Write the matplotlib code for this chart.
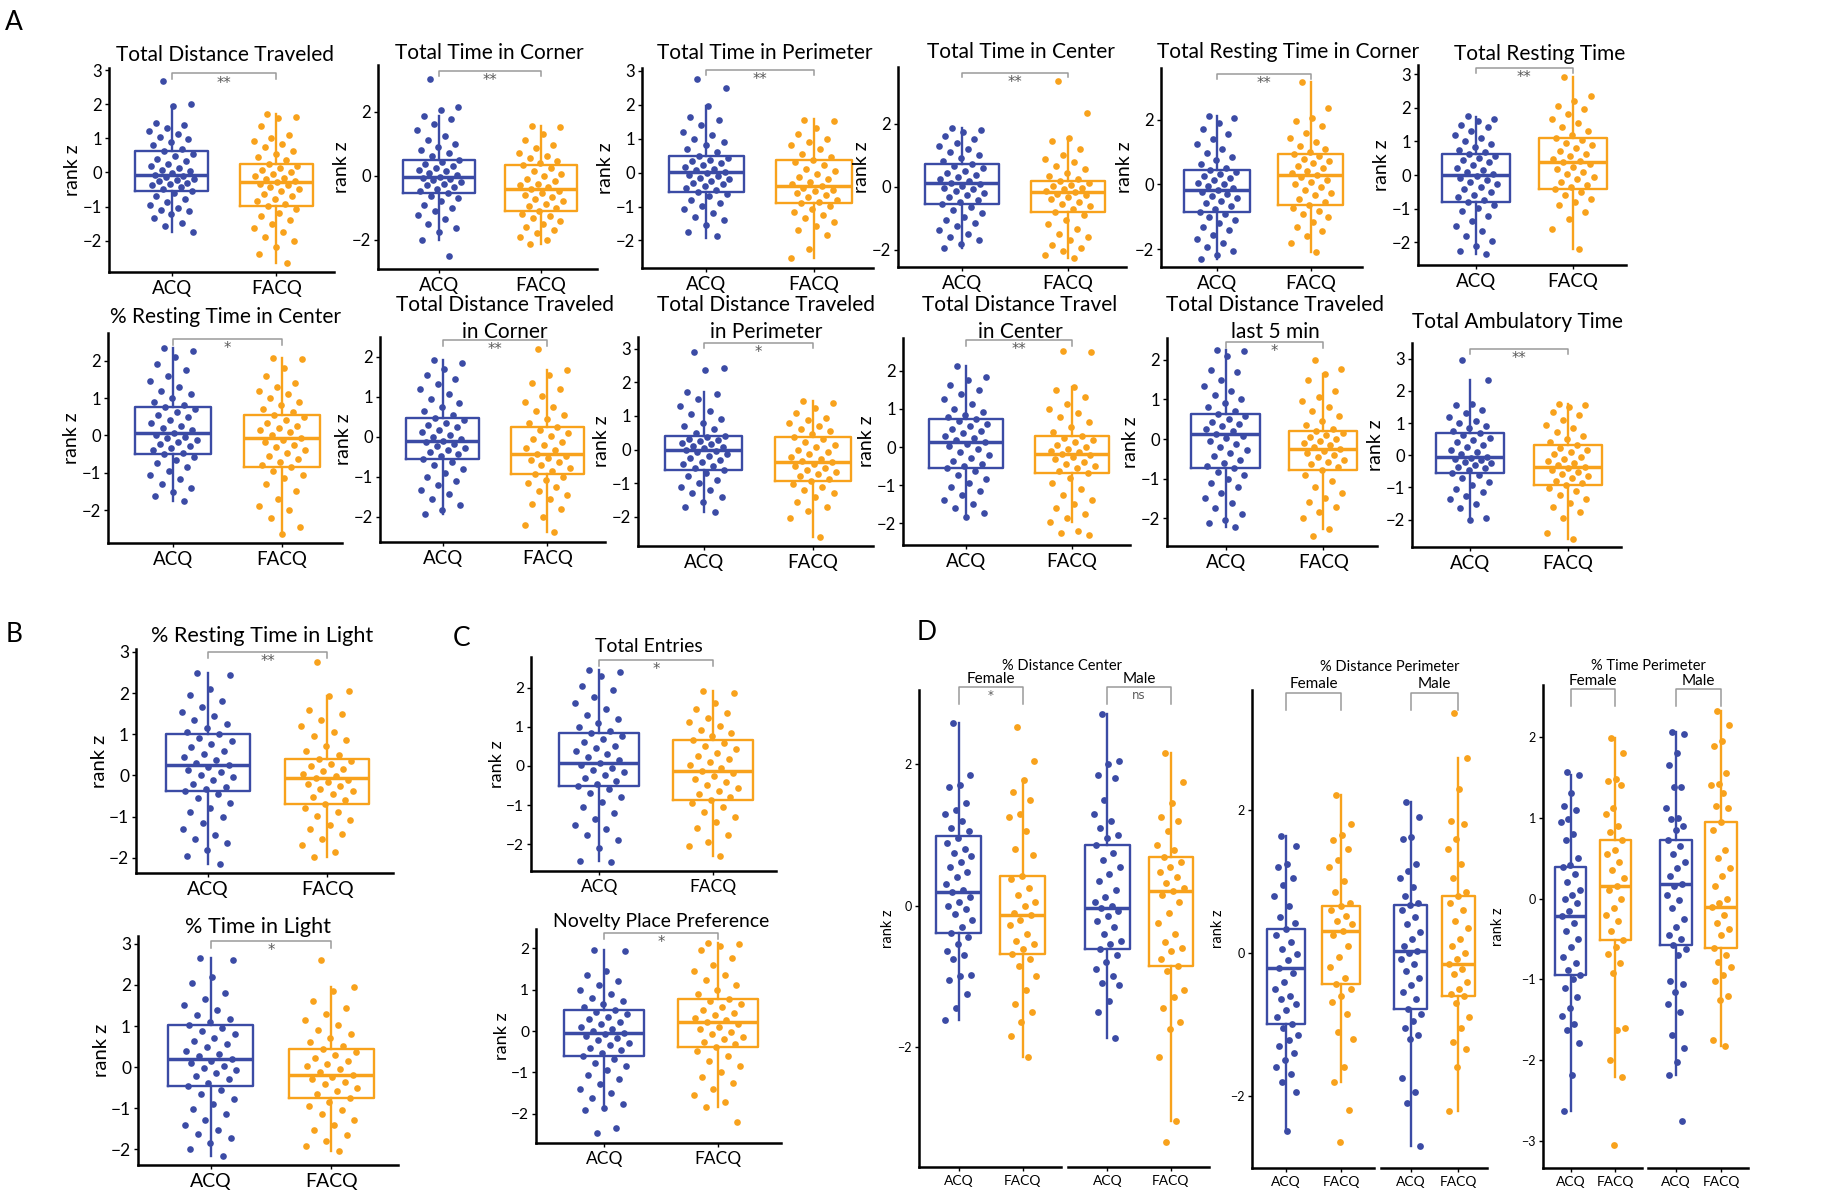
import numpy as np
import matplotlib
matplotlib.use("Agg")
from matplotlib import pyplot as plt

plt.rcParams['font.family'] = ['Lato', 'DejaVu Sans']

W, H = 1836, 1199
BLUE = '#3b4ba5'
ORANGE = '#f8a21c'
groups = ["ACQ", "FACQ"]

# -------- data (rank z) --------
# box stats per group: [low whisker, q1, median, q3, high whisker]
dist_acq = [2.68, 2.0, 1.94, 1.46, 1.38, 1.3, 1.21, 1.12, 1.05, 0.97, 0.88, 0.79, 0.7, 0.62, 0.55, 0.47, 0.4, 0.33, 0.26, 0.2, 0.14, 0.08, 0.03, -0.02, -0.08, -0.1, -0.14, -0.18, -0.22, -0.26, -0.3, -0.34, -0.38, -0.43, -0.48, -0.54, -0.6, -0.68, -0.77, -0.86, -0.95, -1.04, -1.1, -1.14, -1.22, -1.35, -1.48, -1.58, -1.74]
dist_facq = [1.7, 1.62, 1.6, 1.35, 1.1, 1.02, 0.92, 0.83, 0.74, 0.63, 0.55, 0.45, 0.36, 0.26, 0.2, 0.14, 0.08, 0.02, -0.04, -0.1, -0.15, -0.2, -0.25, -0.29, -0.33, -0.38, -0.43, -0.5, -0.56, -0.62, -0.7, -0.78, -0.85, -0.92, -0.99, -1.08, -1.18, -1.28, -1.4, -1.5, -1.62, -1.75, -1.9, -2.02, -2.2, -2.38, -2.66]
dist_box = [[-1.74, -0.54, -0.08, 0.62, 1.94], [-2.66, -0.99, -0.29, 0.26, 1.7]]

corner_acq = [3.0, 2.15, 2.05, 1.85, 1.78, 1.6, 1.42, 1.25, 1.1, 1.0, 0.9, 0.8, 0.7, 0.6, 0.48, 0.42, 0.36, 0.3, 0.24, 0.18, 0.13, 0.08, 0.03, -0.03, -0.06, -0.1, -0.15, -0.2, -0.25, -0.3, -0.36, -0.42, -0.48, -0.55, -0.62, -0.7, -0.8, -0.9, -1.0, -1.1, -1.22, -1.35, -1.5, -1.62, -1.75, -2.0, -2.5]
corner_facq = [1.55, 1.52, 1.3, 1.1, 0.95, 0.85, 0.7, 0.62, 0.55, 0.45, 0.38, 0.32, 0.25, 0.15, 0.06, -0.02, -0.1, -0.18, -0.25, -0.3, -0.36, -0.43, -0.48, -0.55, -0.6, -0.66, -0.72, -0.8, -0.88, -0.95, -1.02, -1.1, -1.18, -1.25, -1.32, -1.4, -1.5, -1.6, -1.7, -1.8, -1.9, -2.0, -2.12]
corner_box = [[-2.0, -0.55, -0.03, 0.48, 1.85], [-2.12, -1.1, -0.43, 0.32, 1.55]]

perim_acq = [2.75, 2.5, 1.97, 1.65, 1.55, 1.4, 1.2, 1.1, 1.0, 0.9, 0.8, 0.7, 0.6, 0.49, 0.44, 0.38, 0.33, 0.28, 0.22, 0.17, 0.12, 0.07, 0.02, -0.02, -0.06, -0.1, -0.15, -0.2, -0.25, -0.3, -0.35, -0.4, -0.46, -0.52, -0.56, -0.62, -0.7, -0.8, -0.9, -0.98, -1.08, -1.18, -1.3, -1.4, -1.55, -1.75, -1.88]
perim_facq = [1.55, 1.52, 1.3, 1.15, 1.0, 0.9, 0.8, 0.68, 0.55, 0.45, 0.37, 0.3, 0.22, 0.12, 0.04, -0.05, -0.12, -0.2, -0.28, -0.33, -0.39, -0.44, -0.5, -0.55, -0.6, -0.66, -0.72, -0.8, -0.86, -0.9, -0.98, -1.06, -1.15, -1.25, -1.35, -1.45, -1.58, -1.7, -1.85, -2.25, -2.53]
perim_box = [[-1.94, -0.56, 0.02, 0.49, 1.97], [-2.53, -0.9, -0.39, 0.37, 1.57]]

center_acq = [1.85, 1.8, 1.75, 1.62, 1.5, 1.38, 1.3, 1.2, 1.1, 1.0, 0.9, 0.8, 0.72, 0.66, 0.58, 0.5, 0.43, 0.36, 0.3, 0.24, 0.18, 0.12, 0.08, 0.03, -0.03, -0.08, -0.14, -0.2, -0.27, -0.34, -0.42, -0.5, -0.56, -0.64, -0.74, -0.85, -0.96, -1.05, -1.15, -1.25, -1.38, -1.5, -1.6, -1.7, -1.82, -1.95]
center_facq = [3.35, 2.35, 1.53, 1.45, 1.2, 1.0, 0.88, 0.78, 0.65, 0.55, 0.45, 0.35, 0.25, 0.18, 0.12, 0.06, 0.01, -0.04, -0.08, -0.13, -0.18, -0.22, -0.27, -0.33, -0.4, -0.48, -0.55, -0.62, -0.7, -0.79, -0.9, -1.05, -1.2, -1.35, -1.5, -1.6, -1.7, -1.85, -1.95, -2.05, -2.18, -2.25]
center_box = [[-1.95, -0.56, 0.12, 0.72, 1.85], [-2.25, -0.79, -0.18, 0.18, 1.53]]

rcorner_acq = [2.12, 2.05, 1.9, 1.72, 1.55, 1.4, 1.25, 1.1, 0.98, 0.86, 0.75, 0.62, 0.52, 0.46, 0.4, 0.33, 0.26, 0.2, 0.13, 0.06, 0.0, -0.06, -0.11, -0.16, -0.22, -0.28, -0.35, -0.42, -0.5, -0.58, -0.66, -0.75, -0.84, -0.92, -1.0, -1.1, -1.2, -1.3, -1.42, -1.55, -1.68, -1.8, -1.92, -2.05, -2.18, -2.3]
rcorner_facq = [3.18, 2.35, 2.05, 1.95, 1.8, 1.6, 1.45, 1.3, 1.2, 1.1, 1.0, 0.95, 0.88, 0.8, 0.72, 0.65, 0.58, 0.5, 0.43, 0.36, 0.29, 0.22, 0.15, 0.08, 0.0, -0.08, -0.16, -0.25, -0.34, -0.44, -0.54, -0.64, -0.72, -0.82, -0.92, -1.02, -1.15, -1.3, -1.45, -1.6, -1.8, -2.08]
rcorner_box = [[-2.3, -0.84, -0.16, 0.46, 2.12], [-2.08, -0.64, 0.29, 0.95, 3.18]]

rest_acq = [1.75, 1.68, 1.6, 1.5, 1.42, 1.32, 1.2, 1.1, 1.0, 0.92, 0.84, 0.76, 0.7, 0.64, 0.58, 0.52, 0.45, 0.38, 0.3, 0.22, 0.15, 0.08, 0.02, -0.03, -0.08, -0.14, -0.2, -0.27, -0.34, -0.42, -0.5, -0.58, -0.66, -0.73, -0.79, -0.88, -0.98, -1.08, -1.2, -1.35, -1.5, -1.65, -1.8, -1.95, -2.1, -2.25, -2.35]
rest_facq = [2.9, 2.35, 2.2, 2.05, 1.95, 1.8, 1.68, 1.55, 1.42, 1.3, 1.2, 1.11, 1.04, 0.96, 0.88, 0.8, 0.72, 0.64, 0.56, 0.48, 0.42, 0.38, 0.32, 0.25, 0.18, 0.1, 0.03, -0.05, -0.12, -0.2, -0.28, -0.35, -0.4, -0.5, -0.6, -0.7, -0.8, -0.9, -1.1, -1.3, -1.6, -2.2]
rest_box = [[-2.35, -0.79, 0.0, 0.64, 1.73], [-2.2, -0.4, 0.38, 1.11, 2.9]]

rcenter_acq = [2.34, 2.25, 2.1, 1.92, 1.75, 1.6, 1.45, 1.3, 1.2, 1.1, 1.0, 0.9, 0.82, 0.77, 0.7, 0.62, 0.55, 0.48, 0.4, 0.33, 0.26, 0.2, 0.14, 0.06, 0.02, -0.03, -0.08, -0.13, -0.18, -0.23, -0.28, -0.34, -0.4, -0.46, -0.5, -0.58, -0.66, -0.75, -0.85, -0.95, -1.05, -1.18, -1.3, -1.42, -1.52, -1.62, -1.75]
rcenter_facq = [2.07, 2.05, 1.8, 1.6, 1.4, 1.3, 1.2, 1.1, 1.0, 0.9, 0.8, 0.7, 0.62, 0.55, 0.48, 0.4, 0.33, 0.26, 0.2, 0.14, 0.08, 0.02, -0.06, -0.12, -0.18, -0.25, -0.32, -0.4, -0.48, -0.56, -0.64, -0.72, -0.8, -0.85, -0.95, -1.05, -1.15, -1.3, -1.5, -1.7, -1.9, -2.0, -2.2, -2.45, -2.63]
rcenter_box = [[-1.75, -0.5, 0.06, 0.77, 2.34], [-2.63, -0.85, -0.06, 0.55, 2.07]]

dcorner_acq = [1.92, 1.85, 1.7, 1.55, 1.45, 1.32, 1.2, 1.08, 0.95, 0.85, 0.75, 0.65, 0.55, 0.47, 0.42, 0.36, 0.3, 0.24, 0.18, 0.12, 0.06, 0.0, -0.05, -0.1, -0.14, -0.18, -0.22, -0.27, -0.32, -0.37, -0.42, -0.48, -0.55, -0.62, -0.7, -0.8, -0.9, -1.0, -1.1, -1.2, -1.32, -1.42, -1.55, -1.7, -1.82, -1.93]
dcorner_facq = [2.2, 1.68, 1.55, 1.35, 1.2, 1.02, 0.88, 0.75, 0.65, 0.55, 0.45, 0.35, 0.25, 0.18, 0.1, 0.03, -0.05, -0.12, -0.2, -0.27, -0.34, -0.42, -0.47, -0.52, -0.58, -0.64, -0.7, -0.77, -0.85, -0.93, -1.0, -1.08, -1.16, -1.25, -1.35, -1.45, -1.56, -1.68, -1.8, -2.0, -2.2, -2.38]
dcorner_box = [[-1.93, -0.55, -0.1, 0.47, 1.92], [-2.38, -0.93, -0.42, 0.25, 1.68]]

dperim_acq = [2.9, 2.42, 2.38, 1.72, 1.65, 1.5, 1.3, 1.15, 1.05, 0.92, 0.8, 0.7, 0.6, 0.5, 0.4, 0.36, 0.32, 0.28, 0.24, 0.2, 0.16, 0.12, 0.08, 0.04, 0.0, -0.04, -0.08, -0.13, -0.18, -0.24, -0.3, -0.36, -0.42, -0.5, -0.56, -0.62, -0.7, -0.8, -0.9, -1.0, -1.1, -1.2, -1.3, -1.4, -1.55, -1.7, -1.85]
dperim_facq = [1.45, 1.4, 1.25, 1.1, 0.95, 0.88, 0.8, 0.7, 0.62, 0.55, 0.45, 0.38, 0.3, 0.22, 0.15, 0.08, 0.0, -0.07, -0.14, -0.21, -0.28, -0.33, -0.37, -0.42, -0.48, -0.54, -0.6, -0.66, -0.72, -0.8, -0.88, -0.95, -1.02, -1.1, -1.2, -1.3, -1.42, -1.55, -1.7, -1.82, -2.05, -2.6]
dperim_box = [[-1.85, -0.62, 0.0, 0.4, 1.72], [-2.6, -0.95, -0.37, 0.38, 1.45]]

dcenter_acq = [2.13, 1.85, 1.75, 1.62, 1.5, 1.38, 1.25, 1.12, 1.0, 0.92, 0.85, 0.78, 0.73, 0.67, 0.6, 0.54, 0.48, 0.42, 0.36, 0.3, 0.24, 0.18, 0.13, 0.08, 0.02, -0.05, -0.12, -0.2, -0.28, -0.36, -0.44, -0.5, -0.56, -0.64, -0.74, -0.84, -0.95, -1.05, -1.15, -1.25, -1.38, -1.5, -1.6, -1.72, -1.83]
dcenter_facq = [2.52, 2.5, 1.57, 1.5, 1.3, 1.12, 1.0, 0.9, 0.78, 0.65, 0.52, 0.4, 0.3, 0.24, 0.18, 0.12, 0.06, 0.0, -0.05, -0.1, -0.14, -0.18, -0.22, -0.27, -0.32, -0.38, -0.44, -0.5, -0.56, -0.62, -0.69, -0.8, -0.95, -1.1, -1.25, -1.4, -1.5, -1.6, -1.75, -1.85, -1.96, -2.2, -2.25, -2.3]
dcenter_box = [[-1.83, -0.56, 0.13, 0.73, 2.13], [-1.96, -0.69, -0.18, 0.3, 1.57]]

last5_acq = [2.25, 2.23, 2.1, 1.75, 1.7, 1.5, 1.35, 1.2, 1.1, 1.0, 0.9, 0.8, 0.7, 0.63, 0.57, 0.5, 0.44, 0.38, 0.32, 0.26, 0.2, 0.13, 0.08, 0.02, -0.05, -0.12, -0.2, -0.28, -0.36, -0.44, -0.52, -0.6, -0.68, -0.74, -0.82, -0.9, -1.0, -1.1, -1.22, -1.35, -1.5, -1.62, -1.75, -1.9, -2.05, -2.12, -2.23]
last5_facq = [2.0, 1.78, 1.64, 1.5, 1.2, 1.05, 0.95, 0.82, 0.7, 0.58, 0.46, 0.35, 0.25, 0.21, 0.15, 0.1, 0.05, 0.0, -0.05, -0.1, -0.15, -0.2, -0.26, -0.3, -0.35, -0.4, -0.46, -0.52, -0.58, -0.64, -0.7, -0.78, -0.9, -1.05, -1.2, -1.35, -1.48, -1.6, -1.72, -1.85, -2.0, -2.28, -2.45]
last5_box = [[-2.23, -0.74, 0.13, 0.63, 2.25], [-2.28, -0.78, -0.26, 0.21, 1.64]]

ambu_acq = [2.95, 2.34, 1.6, 1.55, 1.42, 1.3, 1.18, 1.08, 1.0, 0.92, 0.84, 0.76, 0.68, 0.62, 0.55, 0.48, 0.4, 0.32, 0.25, 0.18, 0.1, 0.04, -0.05, -0.08, -0.12, -0.16, -0.2, -0.25, -0.3, -0.35, -0.4, -0.46, -0.54, -0.62, -0.72, -0.82, -0.92, -1.05, -1.15, -1.25, -1.35, -1.5, -1.65, -1.95, -2.0]
ambu_facq = [1.6, 1.55, 1.5, 1.35, 1.25, 1.1, 0.95, 0.85, 0.72, 0.6, 0.5, 0.4, 0.31, 0.24, 0.17, 0.1, 0.03, -0.04, -0.11, -0.18, -0.24, -0.3, -0.35, -0.4, -0.46, -0.52, -0.58, -0.65, -0.72, -0.8, -0.87, -0.93, -1.02, -1.12, -1.22, -1.35, -1.48, -1.6, -1.75, -1.95, -2.4, -2.6]
ambu_box = [[-2.0, -0.54, -0.05, 0.68, 2.34], [-2.6, -0.93, -0.35, 0.31, 1.6]]

rlight_acq = [2.49, 2.45, 2.1, 1.95, 1.8, 1.65, 1.55, 1.45, 1.35, 1.25, 1.15, 1.05, 1.01, 0.92, 0.84, 0.76, 0.68, 0.6, 0.52, 0.45, 0.38, 0.31, 0.25, 0.2, 0.14, 0.08, 0.02, -0.05, -0.12, -0.2, -0.28, -0.34, -0.38, -0.46, -0.56, -0.66, -0.78, -0.9, -1.02, -1.15, -1.3, -1.45, -1.55, -1.65, -1.8, -1.95, -2.15]
rlight_facq = [2.75, 2.05, 1.94, 1.6, 1.5, 1.35, 1.2, 1.05, 0.95, 0.85, 0.72, 0.6, 0.5, 0.41, 0.35, 0.28, 0.22, 0.16, 0.1, 0.04, -0.02, -0.06, -0.1, -0.15, -0.2, -0.26, -0.32, -0.38, -0.45, -0.52, -0.6, -0.7, -0.78, -0.88, -0.98, -1.08, -1.2, -1.3, -1.42, -1.55, -1.7, -1.85, -1.97]
rlight_box = [[-2.15, -0.38, 0.25, 1.01, 2.49], [-1.97, -0.7, -0.06, 0.41, 1.94]]

light_acq = [2.65, 2.6, 2.2, 2.05, 1.8, 1.65, 1.5, 1.38, 1.28, 1.18, 1.1, 1.02, 0.95, 0.88, 0.8, 0.72, 0.64, 0.56, 0.48, 0.4, 0.33, 0.26, 0.2, 0.15, 0.1, 0.04, -0.02, -0.08, -0.15, -0.22, -0.3, -0.38, -0.45, -0.55, -0.66, -0.78, -0.9, -1.02, -1.15, -1.28, -1.4, -1.52, -1.62, -1.72, -1.85, -2.0, -2.15]
light_facq = [2.6, 1.95, 1.85, 1.6, 1.45, 1.3, 1.15, 1.02, 0.9, 0.8, 0.7, 0.6, 0.52, 0.45, 0.38, 0.3, 0.22, 0.15, 0.08, 0.02, -0.05, -0.12, -0.18, -0.24, -0.3, -0.36, -0.42, -0.5, -0.58, -0.66, -0.75, -0.84, -0.94, -1.05, -1.15, -1.28, -1.4, -1.52, -1.65, -1.8, -1.92, -2.05]
light_box = [[-2.15, -0.45, 0.2, 1.02, 2.65], [-2.05, -0.75, -0.18, 0.45, 1.95]]

entries_acq = [2.45, 2.4, 2.3, 2.05, 1.95, 1.75, 1.6, 1.45, 1.3, 1.2, 1.1, 1.0, 0.9, 0.83, 0.76, 0.68, 0.6, 0.52, 0.45, 0.38, 0.3, 0.22, 0.15, 0.07, 0.02, -0.04, -0.1, -0.16, -0.22, -0.3, -0.38, -0.45, -0.51, -0.6, -0.7, -0.8, -0.92, -1.05, -1.2, -1.35, -1.5, -1.6, -1.75, -1.9, -2.1, -2.42, -2.44]
entries_facq = [1.9, 1.85, 1.6, 1.45, 1.35, 1.22, 1.12, 1.02, 0.92, 0.84, 0.76, 0.66, 0.58, 0.5, 0.42, 0.34, 0.26, 0.18, 0.1, 0.02, -0.05, -0.12, -0.18, -0.25, -0.32, -0.4, -0.48, -0.56, -0.64, -0.72, -0.8, -0.86, -0.95, -1.05, -1.18, -1.3, -1.42, -1.58, -1.75, -1.95, -2.05, -2.3]
entries_box = [[-2.42, -0.51, 0.07, 0.83, 2.45], [-2.3, -0.86, -0.12, 0.66, 1.9]]

novel_acq = [1.95, 1.92, 1.45, 1.35, 1.2, 1.1, 1.0, 0.9, 0.8, 0.72, 0.65, 0.58, 0.5, 0.45, 0.4, 0.34, 0.28, 0.22, 0.16, 0.1, 0.04, -0.01, -0.04, -0.08, -0.12, -0.17, -0.22, -0.28, -0.34, -0.4, -0.46, -0.53, -0.6, -0.68, -0.76, -0.85, -0.95, -1.05, -1.15, -1.28, -1.4, -1.5, -1.62, -1.75, -1.85, -1.9, -2.35, -2.45]
novel_facq = [2.13, 2.1, 2.05, 1.95, 1.75, 1.6, 1.45, 1.35, 1.22, 1.1, 1.0, 0.9, 0.78, 0.72, 0.65, 0.58, 0.5, 0.44, 0.38, 0.32, 0.26, 0.22, 0.16, 0.1, 0.04, -0.02, -0.08, -0.14, -0.2, -0.26, -0.32, -0.39, -0.48, -0.6, -0.72, -0.85, -1.0, -1.12, -1.25, -1.4, -1.55, -1.7, -1.82, -2.2]
novel_box = [[-1.9, -0.6, -0.04, 0.5, 1.95], [-1.82, -0.39, 0.22, 0.78, 2.13]]

# panel D, split by sex
pdc_f_acq = [2.58, 1.85, 1.7, 1.68, 1.45, 1.35, 1.3, 1.2, 1.1, 1.05, 0.95, 0.88, 0.8, 0.75, 0.7, 0.62, 0.55, 0.48, 0.4, 0.3, 0.22, 0.19, 0.12, 0.05, 0.0, -0.05, -0.12, -0.2, -0.3, -0.39, -0.45, -0.55, -0.65, -0.7, -0.75, -0.98, -1.0, -1.05, -1.25, -1.45, -1.62]
pdc_f_facq = [2.52, 2.05, 1.78, 1.6, 1.5, 1.3, 1.25, 1.05, 0.8, 0.72, 0.42, 0.38, 0.25, 0.15, 0.05, 0.0, -0.1, -0.14, -0.2, -0.28, -0.4, -0.5, -0.55, -0.62, -0.69, -0.75, -0.85, -1.0, -1.2, -1.4, -1.5, -1.65, -1.85, -2.14]
pdc_m_acq = [2.71, 2.05, 2.0, 1.85, 1.8, 1.5, 1.3, 1.2, 1.1, 1.0, 0.95, 0.85, 0.75, 0.65, 0.55, 0.45, 0.35, 0.22, 0.12, 0.05, 0.0, -0.03, -0.08, -0.15, -0.22, -0.3, -0.4, -0.5, -0.55, -0.62, -0.7, -0.8, -0.9, -1.0, -1.1, -1.12, -1.35, -1.5, -1.88]
pdc_m_facq = [2.16, 1.75, 1.45, 1.25, 1.2, 1.05, 0.85, 0.78, 0.69, 0.62, 0.55, 0.48, 0.4, 0.32, 0.25, 0.21, 0.15, 0.05, -0.1, -0.25, -0.4, -0.52, -0.6, -0.65, -0.75, -0.86, -0.92, -1.2, -1.3, -1.45, -1.65, -1.75, -2.15, -3.05, -3.35]
pdc_box = [[-1.62, -0.39, 0.19, 0.99, 2.58], [-2.14, -0.69, -0.14, 0.42, 1.78],
           [-1.88, -0.62, -0.03, 0.85, 2.71], [-3.05, -0.86, 0.21, 0.69, 2.16]]

pdp_f_acq = [1.63, 1.5, 1.25, 1.2, 1.05, 0.95, 0.8, 0.65, 0.5, 0.42, 0.34, 0.25, 0.15, 0.05, -0.02, -0.1, -0.21, -0.28, -0.4, -0.5, -0.6, -0.65, -0.72, -0.8, -0.9, -0.99, -1.05, -1.15, -1.22, -1.3, -1.4, -1.5, -1.6, -1.7, -1.8, -1.95, -2.49]
pdp_f_facq = [2.21, 1.8, 1.65, 1.58, 1.45, 1.3, 1.2, 1.0, 0.85, 0.7, 0.65, 0.6, 0.52, 0.45, 0.4, 0.31, 0.25, 0.1, -0.05, -0.2, -0.35, -0.44, -0.5, -0.6, -0.68, -0.85, -1.1, -1.2, -1.6, -1.8, -2.2, -2.65]
pdp_m_acq = [2.11, 1.9, 1.62, 1.6, 1.25, 1.15, 1.05, 0.92, 0.8, 0.7, 0.67, 0.6, 0.5, 0.4, 0.3, 0.2, 0.1, 0.03, 0.0, -0.08, -0.15, -0.25, -0.35, -0.45, -0.55, -0.65, -0.78, -0.85, -0.95, -1.05, -1.15, -1.2, -1.75, -1.95, -2.1, -2.7]
pdp_m_facq = [3.36, 2.73, 2.3, 1.85, 1.8, 1.6, 1.45, 1.25, 1.05, 0.85, 0.8, 0.7, 0.6, 0.45, 0.35, 0.2, 0.1, 0.0, -0.08, -0.16, -0.22, -0.3, -0.4, -0.5, -0.58, -0.6, -0.7, -0.9, -1.05, -1.25, -1.35, -1.6, -2.21]
pdp_box = [[-2.49, -0.99, -0.21, 0.34, 1.63], [-1.8, -0.44, 0.31, 0.65, 2.21],
           [-2.7, -0.78, 0.03, 0.67, 2.11], [-2.21, -0.6, -0.16, 0.8, 2.73]]

ptp_f_acq = [1.57, 1.53, 1.3, 1.15, 1.1, 0.98, 0.95, 0.8, 0.72, 0.5, 0.42, 0.39, 0.3, 0.2, 0.1, 0.05, 0.0, -0.05, -0.15, -0.21, -0.3, -0.4, -0.5, -0.6, -0.72, -0.8, -0.88, -0.94, -1.0, -1.1, -1.22, -1.35, -1.45, -1.55, -1.62, -1.78, -2.18, -2.63]
ptp_f_facq = [1.98, 1.8, 1.48, 1.45, 1.4, 1.12, 1.05, 0.9, 0.82, 0.73, 0.6, 0.55, 0.45, 0.35, 0.25, 0.16, 0.1, 0.0, -0.12, -0.2, -0.28, -0.4, -0.51, -0.6, -0.68, -0.8, -0.92, -1.6, -1.62, -2.0, -2.2, -3.05]
ptp_m_acq = [2.06, 2.04, 1.8, 1.65, 1.38, 1.38, 1.12, 1.0, 0.98, 0.9, 0.85, 0.73, 0.65, 0.55, 0.45, 0.38, 0.28, 0.18, 0.15, 0.05, -0.02, -0.12, -0.25, -0.35, -0.45, -0.5, -0.57, -0.62, -0.7, -1.02, -1.05, -1.15, -1.3, -1.4, -1.68, -1.85, -2.02, -2.18, -2.75]
ptp_m_facq = [2.32, 2.15, 1.95, 1.88, 1.55, 1.42, 1.4, 1.3, 1.15, 1.12, 0.95, 0.85, 0.6, 0.5, 0.38, 0.28, 0.15, 0.0, -0.05, -0.11, -0.2, -0.3, -0.38, -0.45, -0.61, -0.7, -0.78, -0.85, -0.95, -1.02, -1.2, -1.25, -1.75, -1.82]
ptp_box = [[-2.63, -0.94, -0.21, 0.39, 1.53], [-2.2, -0.51, 0.16, 0.73, 1.98],
           [-2.18, -0.57, 0.18, 0.73, 2.06], [-1.82, -0.61, -0.11, 0.95, 2.32]]


def px_axes(fig, l, t, r, b):
    return fig.add_axes([l / W, 1 - b / H, (r - l) / W, (b - t) / H])


def draw_group(ax, x, pts, st, c, s=23):
    stats = dict(whislo=st[0], q1=st[1], med=st[2], q3=st[3], whishi=st[4], fliers=[])
    ax.bxp([stats], positions=[x], widths=0.7, showfliers=False, showcaps=False,
           boxprops=dict(color=c, lw=1.7), medianprops=dict(color=c, lw=2.5),
           whiskerprops=dict(color=c, lw=1.7), manage_ticks=False, zorder=2)
    k = np.arange(len(pts))
    jit = ((k * 0.618034 + 0.3) % 1 - 0.5) * 0.44
    ax.scatter(x + jit, pts, s=s, color=c, lw=0, zorder=3)


def style_axes(ax, fs, left=True):
    for side in ['top', 'right']:
        ax.spines[side].set_visible(False)
    ax.spines['bottom'].set_linewidth(1.8)
    ax.spines['left'].set_linewidth(1.8)
    ax.tick_params(axis='both', length=3, width=1, pad=2)
    ax.tick_params(axis='y', labelsize=12 * fs)
    ax.tick_params(axis='x', labelsize=13.5 * fs, pad=3)
    ax.set_xticks([1, 2])
    ax.set_xticklabels(groups)
    ax.patch.set_alpha(0)
    if not left:
        ax.spines['left'].set_visible(False)
        ax.set_yticks([])


def bracket(ax, y, h, text, color='#9a9a9a', fs=10.5):
    ax.plot([1, 1, 2, 2], [y - h, y, y, y - h], color=color, lw=1.1, clip_on=False, zorder=4)
    if text:
        ax.annotate(text, xy=(1.5, y), xytext=(0, -1.5), textcoords='offset points',
                    ha='center', va='top', fontsize=fs, color='#5a5a5a',
                    family='DejaVu Sans', annotation_clip=False)


fig = plt.figure(figsize=(W / 100, H / 100), dpi=100)

# ---- panels A, B, C ----
# title, acq, facq, box, stars, (l, t, r, b) px, ylim, yticks, bracket y, title centre px, font scale
panels = [
    (["Total Distance Traveled"], dist_acq, dist_facq, dist_box, "**", (109, 68, 334, 272), (-2.92, 3.06), range(-2, 4), 2.9, (225, 55), 1.0),
    (["Total Time in Corner"], corner_acq, corner_facq, corner_box, "**", (378, 65, 597, 269), (-2.91, 3.45), [-2, 0, 2], 3.27, (489, 53), 1.0),
    (["Total Time in Perimeter"], perim_acq, perim_facq, perim_box, "**", (642, 68, 873, 268), (-2.81, 3.08), range(-2, 4), 3.03, (765, 53), 1.0),
    (["Total Time in Center"], center_acq, center_facq, center_box, "**", (898, 67, 1126, 267), (-2.55, 3.8), [-2, 0, 2], 3.62, (1021, 52), 1.0),
    (["Total Resting Time in Corner"], rcorner_acq, rcorner_facq, rcorner_box, "**", (1161, 68, 1362, 267), (-2.55, 3.6), [-2, 0, 2], 3.41, (1288, 52), 1.0),
    (["Total Resting Time"], rest_acq, rest_facq, rest_box, "**", (1418, 65, 1626, 265), (-2.67, 3.27), range(-2, 4), 3.17, (1540, 54), 1.0),
    (["% Resting Time in Center"], rcenter_acq, rcenter_facq, rcenter_box, "*", (108, 333, 342, 543), (-2.88, 2.74), range(-2, 3), 2.58, (226, 317), 1.0),
    (["Total Distance Traveled", "in Corner"], dcorner_acq, dcorner_facq, dcorner_box, "**", (380, 337, 605, 542), (-2.63, 2.5), range(-2, 3), 2.43, (505, 305), 1.0),
    (["Total Distance Traveled", "in Perimeter"], dperim_acq, dperim_facq, dperim_box, "*", (638, 337, 873, 546), (-2.87, 3.35), range(-2, 4), 3.18, (766, 305), 1.0),
    (["Total Distance Travel", "in Center"], dcenter_acq, dcenter_facq, dcenter_box, "**", (903, 338, 1130, 545), (-2.57, 2.86), range(-2, 3), 2.8, (1020, 305), 1.0),
    (["Total Distance Traveled", "last 5 min"], last5_acq, last5_facq, last5_box, "*", (1167, 338, 1377, 546), (-2.7, 2.55), range(-2, 3), 2.46, (1275, 305), 1.0),
    (["Total Ambulatory Time"], ambu_acq, ambu_facq, ambu_box, "**", (1412, 343, 1621, 547), (-2.85, 3.49), range(-2, 4), 3.31, (1517, 322), 1.0),
    (["% Resting Time in Light"], rlight_acq, rlight_facq, rlight_box, "**", (136, 649, 393, 873), (-2.37, 3.07), range(-2, 4), 3.0, (262, 636), 1.04),
    (["% Time in Light"], light_acq, light_facq, light_box, "*", (138, 936, 398, 1165), (-2.38, 3.19), range(-2, 4), 3.06, (258, 927), 1.04),
    (["Total Entries"], entries_acq, entries_facq, entries_box, "*", (531, 657, 776, 871), (-2.68, 2.78), range(-2, 3), 2.71, (649, 646), 0.93),
    (["Novelty Place Preference"], novel_acq, novel_facq, novel_box, "*", (536, 929, 781, 1143), (-2.7, 2.46), range(-2, 3), 2.37, (661, 921), 0.93),
]

for title, acq, facq, box, sig, (l, t, r, b), ylim, yticks, ybr, (tx, ty), fs in panels:
    ax = px_axes(fig, l, t, r, b)
    draw_group(ax, 1, acq, box[0], BLUE)
    draw_group(ax, 2, facq, box[1], ORANGE)
    ax.set_xlim(0.4, 2.55)
    ax.set_ylim(*ylim)
    ax.set_yticks(list(yticks))
    style_axes(ax, fs)
    ax.set_ylabel("rank z", fontsize=14 * fs, labelpad=1)
    bracket(ax, ybr, 0.15, sig)
    for i, line in enumerate(title):
        fig.text(tx / W, 1 - (ty + 27 * i) / H, line, ha='center', va='center', fontsize=15 * fs)

# ---- panel D ----
# title, female/male groups, boxes, stars, (l, r) px of both halves, t, b, ylim, yticks, bracket y, title px
dpanels = [
    ("% Distance Center", [pdc_f_acq, pdc_f_facq, pdc_m_acq, pdc_m_facq], pdc_box, ["*", "ns"],
     [(919, 1061), (1068, 1209)], 690, 1167, (-3.7, 3.05), [-2, 0, 2], 3.09, (1062, 666), 2),
    ("% Distance Perimeter", [pdp_f_acq, pdp_f_facq, pdp_m_acq, pdp_m_facq], pdp_box, ["", ""],
     [(1252, 1374), (1381, 1487)], 690, 1168, (-3.01, 3.68), [-2, 0, 2], 3.64, (1390, 667), 4),
    ("% Time Perimeter", [ptp_f_acq, ptp_f_facq, ptp_m_acq, ptp_m_facq], ptp_box, ["", ""],
     [(1543, 1642), (1648, 1748)], 685, 1168, (-3.33, 2.64), range(-3, 3), 2.59, (1648, 666), 12),
]

for title, pts, box, sigs, halves, t, b, ylim, yticks, ybr, (tx, ty), lpad in dpanels:
    span = ylim[1] - ylim[0]
    for j, (sex, (l, r)) in enumerate(zip(["Female", "Male"], halves)):
        ax = px_axes(fig, l, t, r, b)
        draw_group(ax, 1, pts[2 * j], box[2 * j], BLUE, s=24)
        draw_group(ax, 2, pts[2 * j + 1], box[2 * j + 1], ORANGE, s=24)
        ax.set_xlim(0.38, 2.6)
        ax.set_ylim(*ylim)
        style_axes(ax, 0.72, left=(j == 0))
        ax.tick_params(axis='y', labelsize=9)
        ax.tick_params(axis='x', labelsize=10)
        if j == 0:
            ax.set_yticks(list(yticks))
            ax.set_ylabel("rank z", fontsize=10.5, labelpad=lpad)
        bracket(ax, ybr, span * 0.036, sigs[j], fs=8.5)
        ax.annotate(sex, xy=(1.5, ybr), xytext=(0, 1), textcoords='offset points',
                    ha='center', va='bottom', fontsize=11, annotation_clip=False)
    fig.text(tx / W, 1 - ty / H, title, ha='center', va='center', fontsize=10.5)

# ---- panel letters ----
for letter, (x, y) in zip("ABCD", [(14, 22), (14, 634), (462, 638), (927, 632)]):
    fig.text(x / W, 1 - y / H, letter, ha='center', va='center', fontsize=19)

fig.savefig("out.png", dpi=100)
